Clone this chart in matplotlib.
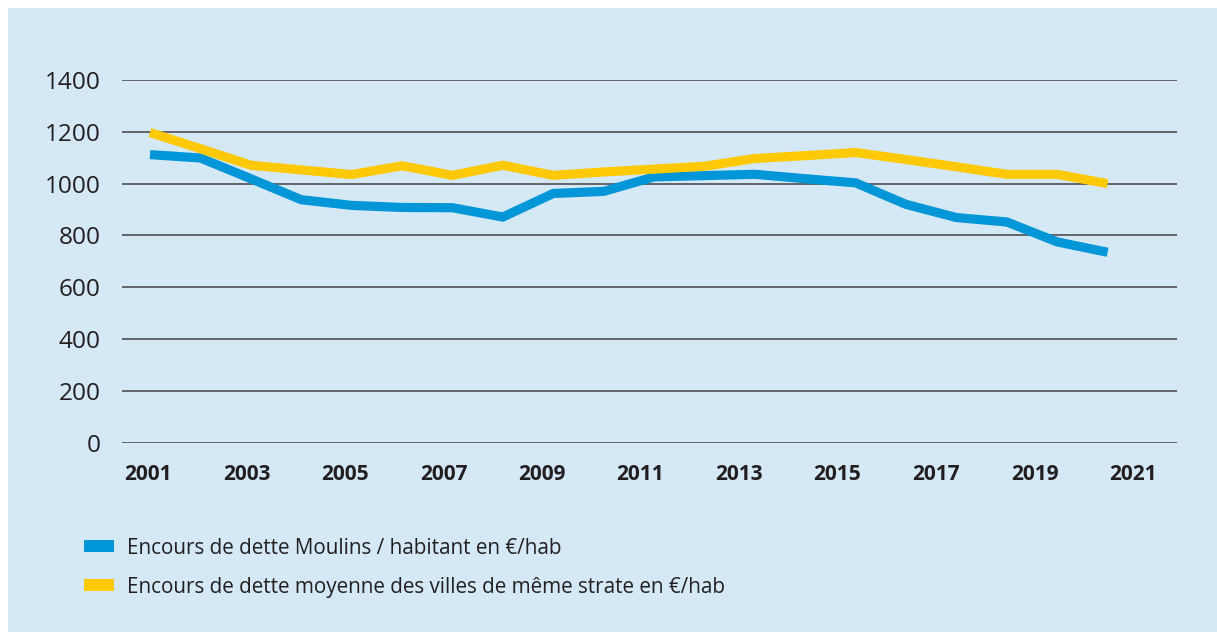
import matplotlib
matplotlib.use("Agg")
import matplotlib.pyplot as plt
from matplotlib.patches import Rectangle

# ---------------- data ----------------
years = list(range(2001, 2021))
moulins = [1112, 1099, 1019, 938, 916, 908, 907, 871, 962, 970,
           1026, 1031, 1036, 1019, 1003, 920, 869, 852, 775, 735]
strate = [1197, 1135, 1071, 1053, 1035, 1069, 1032, 1071, 1032, 1045,
          1056, 1067, 1097, 1108, 1120, 1093, 1065, 1036, 1036, 1000]
x_tick_years = [2001, 2003, 2005, 2007, 2009, 2011, 2013, 2015, 2017, 2019, 2021]
x_tick_labels = [str(y) for y in x_tick_years]
y_ticks = [0, 200, 400, 600, 800, 1000, 1200, 1400]
y_tick_labels = [str(v) for v in y_ticks]
series_labels = ["Encours de dette Moulins / habitant en €/hab",
                 "Encours de dette moyenne des villes de même strate en €/hab"]

# ---------------- style ----------------
W, H = 1217, 632
BG = "#d4e8f6"
BLUE = "#0096d8"
YELLOW = "#ffca05"
TXT = "#231f20"
GRID = "#5a5b5e"
FONT = "Open Sans"

fig = plt.figure(figsize=(W / 100, H / 100), dpi=100)
fig.patch.set_facecolor("white")
fig.patches.append(Rectangle((8 / W, 0), 1 - 8 / W, (H - 8) / H,
                             transform=fig.transFigure, facecolor=BG,
                             edgecolor="none", zorder=-10))

# axes placement in pixels
ax_left, ax_right = 122, 1177
ax_top, ax_bottom = 80, 442.7
ax = fig.add_axes([ax_left / W, (H - ax_bottom) / H,
                   (ax_right - ax_left) / W, (ax_bottom - ax_top) / H])
ax.set_zorder(5)
ax.set_facecolor("none")
for s in ax.spines.values():
    s.set_visible(False)

# x: 2001 at px 150, 2020 at px 1107.6
px_per_year = (1107.6 - 150) / 19
xmin = 2001 - (150 - ax_left) / px_per_year
xmax = 2001 + (ax_right - 150) / px_per_year
ax.set_xlim(xmin, xmax)
ax.set_ylim(0, 1400)

for v in y_ticks:
    ax.axhline(v, color=GRID, lw=1.3, zorder=1)

ax.plot(years, moulins, color=BLUE, lw=6.6, solid_capstyle="butt",
        solid_joinstyle="miter", zorder=3, clip_on=False)
ax.plot(years, strate, color=YELLOW, lw=6.6, solid_capstyle="butt",
        solid_joinstyle="miter", zorder=3, clip_on=False)

ax.set_yticks(y_ticks)
ax.set_yticklabels(y_tick_labels, fontsize=17.6, family=FONT, color=TXT)
ax.tick_params(axis="y", length=0, pad=15.5)

# x tick labels sit on a slightly tighter spacing than the data in the reference
lab_px = [148 + (y - 2001) * 49.25 for y in x_tick_years]
lab_pos = [2001 + (p - 150) / px_per_year for p in lab_px]
ax.set_xticks(lab_pos)
ax.set_xticklabels(x_tick_labels, fontsize=15, family=FONT,
                   fontweight="bold", color=TXT)
ax.tick_params(axis="x", length=0, pad=15)

# ---------------- legend ----------------
fig.canvas.draw()
renderer = fig.canvas.get_renderer()
rows_y = [546, 585]
colors = [BLUE, YELLOW]
texts = []
for yc, c, lab in zip(rows_y, colors, series_labels):
    fig.patches.append(Rectangle((84 / W, (H - yc - 6) / H), 30 / W, 12 / H,
                                 transform=fig.transFigure, facecolor=c,
                                 edgecolor="none", zorder=2))
    t = fig.text(127 / W, (H - yc) / H, lab, fontsize=14, family=FONT,
                 color=TXT, va="center_baseline", ha="left")
    texts.append(t)

fig.canvas.draw()
w0 = texts[0].get_window_extent(renderer).width
fs = 14 * 437 / w0
for t in texts:
    t.set_fontsize(fs)

fig.savefig("out.png", dpi=100, facecolor=fig.get_facecolor())
